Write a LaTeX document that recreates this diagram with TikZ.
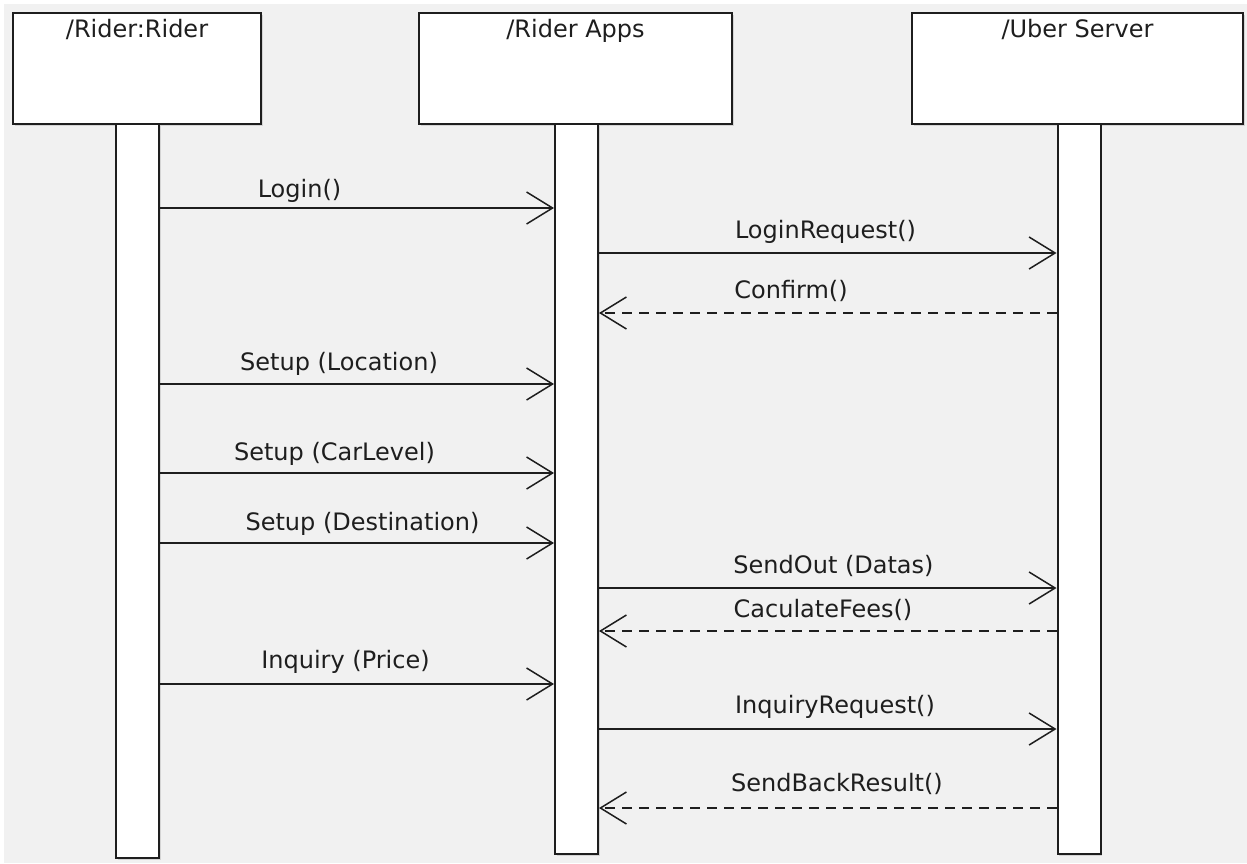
\documentclass[tikz,border=0pt]{standalone}
\usepackage{fontspec}
\setmainfont{DejaVu Sans}
\usetikzlibrary{arrows.meta,shadows}
\definecolor{canvas}{HTML}{F1F1F1}
\definecolor{ink}{HTML}{1E1E1E}
\begin{document}
\begin{tikzpicture}[x=1pt,y=-1pt,
  objbox/.style={draw=ink, line width=2pt, fill=white, rectangle, inner sep=0pt,
    drop shadow={shadow xshift=1.5pt, shadow yshift=-1.5pt, opacity=0.25}},
  lifebar/.style={draw=ink, line width=2pt, fill=white, rectangle, inner sep=0pt,
    minimum width=43pt,
    drop shadow={shadow xshift=1.5pt, shadow yshift=-1.5pt, opacity=0.25}},
  objname/.style={anchor=base, inner sep=0pt, text=ink, font=\fontsize{24}{28}\selectfont},
  msgtext/.style={anchor=base, inner sep=0pt, text=ink, font=\fontsize{24}{28}\selectfont},
  call/.style={draw=ink, line width=1.5pt, -{Straight Barb[length=26pt,width=32pt,line width=1.5pt]}},
  reply/.style={call, dash pattern=on 10pt off 7pt},
]
% canvas
\useasboundingbox (0,0) rectangle (1247,863);
\fill[white] (0,0) rectangle (1247,863);
\fill[canvas] (4,4) rectangle (1247,863);

% participants
\node[objbox, minimum width=248pt, minimum height=111pt] (rider) at (137,68.5) {};
\node[objbox, minimum width=313pt, minimum height=111pt] (apps) at (575.5,68.5) {};
\node[objbox, minimum width=331pt, minimum height=111pt] (server) at (1077.5,68.5) {};
\node[objname] (riderT) at ([yshift=-25pt]rider.north) {/Rider:Rider};
\node[objname] (appsT) at ([yshift=-25pt]apps.north) {/Rider Apps};
\node[objname] (serverT) at ([yshift=-25pt]server.north) {/Uber Server};

% lifelines
\node[lifebar, minimum height=734pt] (l1) at (137.5,491) {};
\node[lifebar, minimum height=730pt] (l2) at (576.5,489) {};
\node[lifebar, minimum height=730pt] (l3) at (1079,489) {};

% message rows
\coordinate (r1) at (0,208);
\coordinate (r2) at (0,253);
\coordinate (r3) at (0,313);
\coordinate (r4) at (0,384);
\coordinate (r5) at (0,473);
\coordinate (r6) at (0,543);
\coordinate (r7) at (0,588);
\coordinate (r8) at (0,631);
\coordinate (r9) at (0,684);
\coordinate (r10) at (0,729);
\coordinate (r11) at (0,808);

% messages
\draw[call]  (l1.east |- r1) -- (l2.west |- r1);
\draw[call]  (l2.east |- r2) -- (l3.west |- r2);
\draw[reply] (l3.west |- r3) -- (l2.east |- r3);
\draw[call]  (l1.east |- r4) -- (l2.west |- r4);
\draw[call]  (l1.east |- r5) -- (l2.west |- r5);
\draw[call]  (l1.east |- r6) -- (l2.west |- r6);
\draw[call]  (l2.east |- r7) -- (l3.west |- r7);
\draw[reply] (l3.west |- r8) -- (l2.east |- r8);
\draw[call]  (l1.east |- r9) -- (l2.west |- r9);
\draw[call]  (l2.east |- r10) -- (l3.west |- r10);
\draw[reply] (l3.west |- r11) -- (l2.east |- r11);

% message labels
\node[msgtext] (t1) at (299.5,197) {Login()};
\node[msgtext] (t2) at (825.5,238) {LoginRequest()};
\node[msgtext] (t3) at (791,298) {Confirm()};
\node[msgtext] (t4) at (339,370) {Setup (Location)};
\node[msgtext] (t5) at (334.5,460) {Setup (CarLevel)};
\node[msgtext] (t6) at (362.5,530) {Setup (Destination)};
\node[msgtext] (t7) at (833.5,573) {SendOut (Datas)};
\node[msgtext] (t8) at (823,617) {CaculateFees()};
\node[msgtext] (t9) at (345.5,668) {Inquiry (Price)};
\node[msgtext] (t10) at (835,713) {InquiryRequest()};
\node[msgtext] (t11) at (837,791) {SendBackResult()};
\end{tikzpicture}
\end{document}
